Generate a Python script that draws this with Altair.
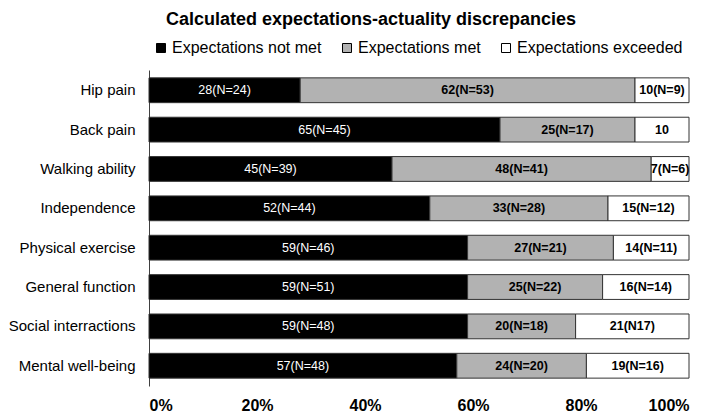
import altair as alt
import pandas as pd

items = ["Hip pain", "Back pain", "Walking ability", "Independence",
         "Physical exercise", "General function", "Social interractions", "Mental well-being"]
categories = ["Expectations not met", "Expectations met", "Expectations exceeded"]
not_met = [28, 65, 45, 52, 59, 59, 59, 57]
met = [62, 25, 48, 33, 27, 25, 20, 24]
exceeded = [10, 10, 7, 15, 14, 16, 21, 19]
not_met_labels = ["28(N=24)", "65(N=45)", "45(N=39)", "52(N=44)", "59(N=46)", "59(N=51)", "59(N=48)", "57(N=48)"]
met_labels = ["62(N=53)", "25(N=17)", "48(N=41)", "33(N=28)", "27(N=21)", "25(N=22)", "20(N=18)", "24(N=20)"]
exceeded_labels = ["10(N=9)", "10", "7(N=6)", "15(N=12)", "14(N=11)", "16(N=14)", "21(N17)", "19(N=16)"]
colors = ["#000000", "#b2b2b2", "#ffffff"]
x_ticks = [0, 20, 40, 60, 80, 100]

FONT = "Liberation Sans, Arial, sans-serif"

rows = []
for ci, (cat, vals, labs) in enumerate(zip(categories, [not_met, met, exceeded],
                                           [not_met_labels, met_labels, exceeded_labels])):
    for it, v, l in zip(items, vals, labs):
        rows.append({"item": it, "category": cat, "order": ci, "value": v, "label": l})
df = pd.DataFrame(rows)

base = alt.Chart(df).transform_stack(
    stack="value", as_=["x0", "x1"], groupby=["item"],
    sort=[alt.SortField("order", order="ascending")]
).transform_calculate(mid="(datum.x0 + datum.x1) / 2")

y_enc = alt.Y("item:N", sort=items,
              scale=alt.Scale(paddingInner=0.37, paddingOuter=0.2),
              axis=alt.Axis(title=None, labelFontSize=15, labelFont=FONT, labelColor="black",
                            labelPadding=14, ticks=False, domain=True, domainColor="#404040",
                            domainWidth=1, grid=False, labelLimit=300))

bars = base.mark_bar(stroke="#333333", strokeWidth=1).encode(
    y=y_enc,
    x=alt.X("x0:Q", scale=alt.Scale(domain=[0, 100], nice=False),
            axis=alt.Axis(title=None, values=x_ticks, labelExpr="datum.value + '%'",
                          labelFontSize=16, labelFontWeight="bold", labelFont=FONT,
                          labelColor="black", labelPadding=11, ticks=False, domain=False,
                          grid=False)),
    x2="x1:Q",
    color=alt.Color("category:N", sort=categories,
                    scale=alt.Scale(domain=categories, range=colors),
                    legend=alt.Legend(title=None, orient="none", legendX=4, legendY=-30,
                                      direction="horizontal", columns=3, symbolType="square",
                                      symbolSize=81, symbolStrokeColor="black",
                                      symbolStrokeWidth=1, labelFontSize=16, labelFont=FONT,
                                      labelColor="black", labelOffset=3, columnPadding=17,
                                      labelLimit=300, padding=0)),
)

text_white = base.transform_filter("datum.order == 0").mark_text(
    color="white", fontSize=12.5, font=FONT
).encode(y=alt.Y("item:N", sort=items), x="mid:Q", text="label:N")

text_black = base.transform_filter("datum.order > 0").mark_text(
    color="black", fontSize=12.5, fontWeight="bold", font=FONT
).encode(y=alt.Y("item:N", sort=items), x="mid:Q", text="label:N")

chart = alt.layer(bars, text_white, text_black).properties(
    width=540, height=316,
    title=alt.TitleParams("Calculated expectations-actuality discrepancies", fontSize=18,
                          fontWeight="bold", font=FONT, color="black", anchor="middle",
                          dx=-48, offset=11),
    autosize=alt.AutoSizeParams(type="none"),
    padding={"left": 141, "top": 62, "right": 12, "bottom": 27},
).configure_view(stroke=None)

chart.save("out.html", embed_options={"renderer": "svg", "actions": False})
